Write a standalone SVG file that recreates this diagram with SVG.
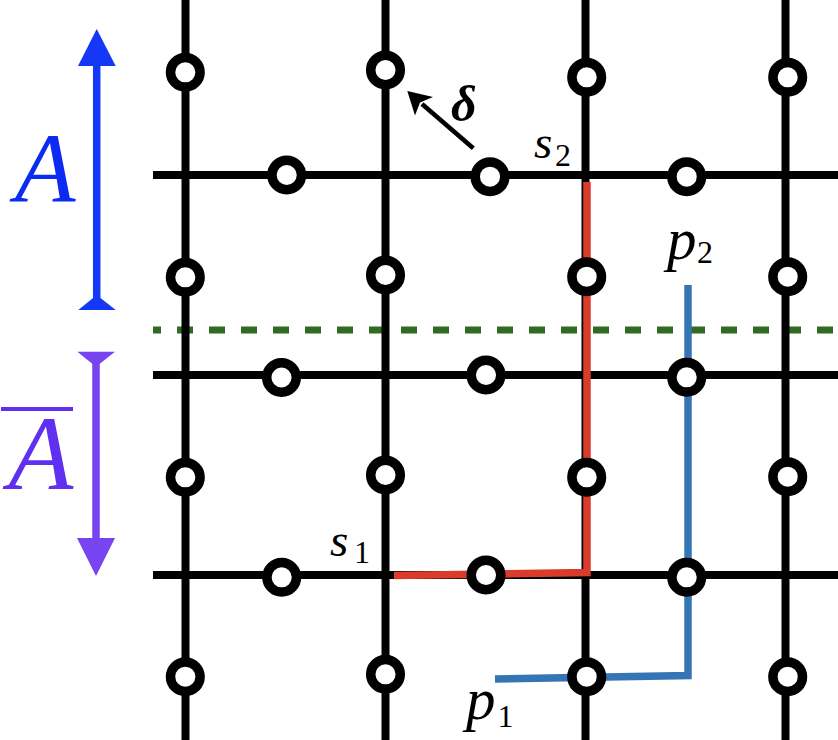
<svg xmlns="http://www.w3.org/2000/svg" width="838" height="740" viewBox="0 0 838 740">
<style>
.grid{stroke:#000;stroke-width:8;fill:none}
.q{fill:#fff;stroke:#000;stroke-width:9.5}
text{font-family:"Liberation Serif","DejaVu Serif",serif}
</style>
<rect width="838" height="740" fill="#fff"/>
<g id="cut">
<line x1="153" y1="330" x2="838" y2="330" stroke="#2f6b20" stroke-width="7" stroke-dasharray="16 16" stroke-dashoffset="8"/>
</g>
<g id="lattice" class="grid">
<line x1="185.5" y1="0" x2="185.5" y2="740"/>
<line x1="385.5" y1="0" x2="385.5" y2="740"/>
<line x1="585.5" y1="0" x2="585.5" y2="740"/>
<line x1="785.5" y1="0" x2="785.5" y2="740"/>
<line x1="153" y1="175" x2="838" y2="175"/>
<line x1="153" y1="375" x2="838" y2="375"/>
<line x1="153" y1="575" x2="838" y2="575"/>
</g>
<g id="connectors">
<polyline id="string-s" points="394,575.5 587,572.5 587,182" fill="none" stroke="#db3b2a" stroke-width="7.5" stroke-linejoin="miter"/>
<polyline id="string-p" points="495,679 688,675.5 688,285" fill="none" stroke="#3575b5" stroke-width="7.5" stroke-linejoin="miter"/>
<g id="delta-arrow">
<line x1="473.3" y1="148.3" x2="422" y2="104" stroke="#000" stroke-width="4.5"/>
<path d="M407.3,91 L415,115.5 L420,102.6 L433,97 Z" fill="#000"/>
</g>
</g>
<g id="qubits">
<circle class="q" cx="185.3" cy="72.3" r="14.8"/>
<circle class="q" cx="185.3" cy="277.3" r="14.8"/>
<circle class="q" cx="185.3" cy="477.3" r="14.8"/>
<circle class="q" cx="185.3" cy="676.7" r="14.8"/>
<circle class="q" cx="385.5" cy="70" r="14.8"/>
<circle class="q" cx="385.5" cy="275" r="14.8"/>
<circle class="q" cx="385.5" cy="475" r="14.8"/>
<circle class="q" cx="385.5" cy="674.3" r="14.8"/>
<circle class="q" cx="586.7" cy="77.3" r="14.8"/>
<circle class="q" cx="586.7" cy="276.7" r="14.8"/>
<circle class="q" cx="586.7" cy="477.3" r="14.8"/>
<circle class="q" cx="586.7" cy="676.7" r="14.8"/>
<circle class="q" cx="787.7" cy="77.3" r="14.8"/>
<circle class="q" cx="787.7" cy="276.7" r="14.8"/>
<circle class="q" cx="787.7" cy="476.7" r="14.8"/>
<circle class="q" cx="787.7" cy="676.7" r="14.8"/>
<circle class="q" cx="286.7" cy="175" r="14.8"/>
<circle class="q" cx="490" cy="176.7" r="14.8"/>
<circle class="q" cx="686.7" cy="176.7" r="14.8"/>
<circle class="q" cx="281.5" cy="377.5" r="14.8"/>
<circle class="q" cx="486" cy="375" r="14.8"/>
<circle class="q" cx="686.7" cy="377.3" r="14.8"/>
<circle class="q" cx="281.7" cy="577.3" r="14.8"/>
<circle class="q" cx="486" cy="575" r="14.8"/>
<circle class="q" cx="686.7" cy="577.3" r="14.8"/>
</g>
<g id="region-A">
<line x1="96.7" y1="60" x2="96.7" y2="300" stroke="#1438f5" stroke-width="7.5"/>
<polygon points="96.7,29 78,66 115.7,66" fill="#1438f5"/>
<polygon points="96.7,295 78.3,310 115.7,310" fill="#1438f5"/>
<text x="15" y="202" font-style="italic" font-size="99" fill="#0b2bf2">A</text>
</g>
<g id="region-Abar">
<line x1="96" y1="360" x2="96" y2="545" stroke="#7744f2" stroke-width="7.5"/>
<polygon points="77.3,351.7 115,351.7 96,366.7" fill="#7744f2"/>
<polygon points="77,538 115,538 96,576" fill="#7744f2"/>
<line x1="1" y1="409" x2="73" y2="409" stroke="#6030f0" stroke-width="4"/>
<text x="8.5" y="489" font-style="italic" font-size="106" fill="#6030f0">A</text>
</g>
<g id="labels" fill="#000">
<text x="451" y="121" font-size="50" font-weight="bold" font-style="italic">δ</text>
<text x="534" y="158" font-size="47" font-style="italic">s</text>
<text x="555" y="166" font-size="32">2</text>
<text x="330" y="556" font-size="47" font-style="italic">s</text>
<text x="362" y="563" font-size="32" text-anchor="middle">1</text>
<text x="667" y="259" font-size="59" font-style="italic">p</text>
<text x="697" y="263" font-size="32">2</text>
<text x="466" y="719" font-size="59" font-style="italic">p</text>
<text x="505.5" y="727" font-size="32" text-anchor="middle">1</text>
</g>
</svg>
